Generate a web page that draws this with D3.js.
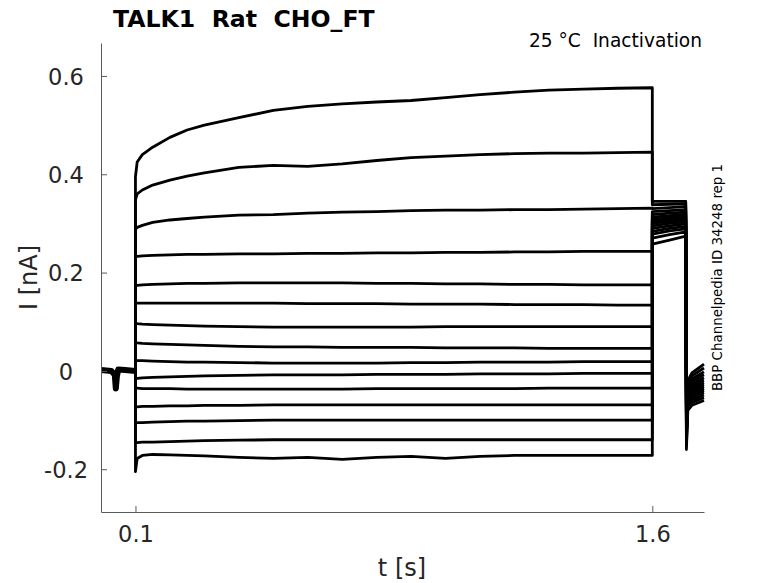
<!DOCTYPE html>
<html>
<head>
<meta charset="utf-8">
<script src="https://cdn.jsdelivr.net/npm/d3@7"></script>
<style>
  html, body { margin: 0; padding: 0; background: #fff; }
  svg { display: block; font-family: "DejaVu Sans", sans-serif; }
  text { white-space: pre; }
</style>
</head>
<body>
<svg id="chart" width="778" height="583"></svg>
<script>
// ---------------- data ----------------
const titleText = "TALK1  Rat  CHO_FT";
const subtitleText = "25 °C  Inactivation";
const sideText = "BBP Channelpedia ID 34248 rep 1";
const xLabel = "t [s]";
const yLabel = "I [nA]";
const xTicks = [0.1, 1.6];
const yTicks = [-0.2, 0, 0.2, 0.4, 0.6];

// holding period (common to all sweeps)
const preT = [0, 0.030, 0.040, 0.043, 0.046, 0.050, 0.070, 0.100];
const preI = [0.002, 0.000, -0.008, -0.036, -0.012, 0.003, 0.002, 0.000];

// conditioning pulse
const pulseT = [0.100, 0.105, 0.120, 0.150, 0.200, 0.250, 0.300, 0.400, 0.500, 0.600,
                0.700, 0.800, 0.900, 1.000, 1.100, 1.200, 1.300, 1.400, 1.500, 1.600];
const sweep01 = [0.395, 0.425, 0.440, 0.455, 0.475, 0.490, 0.500, 0.515, 0.530, 0.538,
                 0.543, 0.547, 0.550, 0.556, 0.562, 0.567, 0.571, 0.573, 0.575, 0.576];
const sweep02 = [0.348, 0.360, 0.368, 0.378, 0.388, 0.396, 0.403, 0.414, 0.418, 0.416,
                 0.421, 0.428, 0.434, 0.437, 0.440, 0.442, 0.443, 0.443, 0.444, 0.445];
const sweep03 = [0.288, 0.292, 0.296, 0.302, 0.307, 0.310, 0.313, 0.317, 0.318, 0.321,
                 0.323, 0.324, 0.326, 0.327, 0.327, 0.328, 0.328, 0.329, 0.330, 0.331];
const sweep04 = [0.232, 0.233, 0.234, 0.235, 0.236, 0.237, 0.237, 0.238, 0.238, 0.239,
                 0.239, 0.240, 0.240, 0.241, 0.241, 0.242, 0.242, 0.243, 0.243, 0.243];
const sweep05 = [0.173, 0.174, 0.175, 0.176, 0.177, 0.178, 0.178, 0.179, 0.179, 0.179,
                 0.179, 0.178, 0.178, 0.177, 0.177, 0.176, 0.176, 0.175, 0.175, 0.175];
const sweep06 = [0.138, 0.138, 0.138, 0.138, 0.138, 0.138, 0.138, 0.138, 0.138, 0.137,
                 0.137, 0.137, 0.136, 0.136, 0.136, 0.135, 0.135, 0.135, 0.134, 0.134];
const sweep07 = [0.097, 0.096, 0.095, 0.094, 0.093, 0.092, 0.091, 0.090, 0.089, 0.089,
                 0.089, 0.089, 0.089, 0.090, 0.090, 0.090, 0.090, 0.090, 0.090, 0.090];
const sweep08 = [0.058, 0.057, 0.056, 0.055, 0.054, 0.053, 0.052, 0.050, 0.049, 0.049,
                 0.048, 0.048, 0.048, 0.047, 0.047, 0.047, 0.046, 0.046, 0.046, 0.046];
const sweep09 = [0.022, 0.021, 0.021, 0.020, 0.019, 0.018, 0.018, 0.017, 0.016, 0.016,
                 0.016, 0.016, 0.017, 0.017, 0.018, 0.018, 0.018, 0.019, 0.019, 0.019];
const sweep10 = [-0.016, -0.015, -0.014, -0.013, -0.012, -0.011, -0.010, -0.009, -0.008, -0.008,
                 -0.008, -0.007, -0.007, -0.007, -0.006, -0.006, -0.006, -0.005, -0.005, -0.005];
const sweep11 = [-0.035, -0.035, -0.036, -0.036, -0.036, -0.037, -0.037, -0.037, -0.037, -0.037,
                 -0.037, -0.036, -0.036, -0.036, -0.036, -0.036, -0.035, -0.035, -0.035, -0.035];
const sweep12 = [-0.073, -0.073, -0.072, -0.072, -0.071, -0.071, -0.070, -0.070, -0.069, -0.069,
                 -0.069, -0.069, -0.069, -0.069, -0.069, -0.069, -0.069, -0.069, -0.069, -0.069];
const sweep13 = [-0.106, -0.105, -0.105, -0.104, -0.103, -0.102, -0.102, -0.101, -0.100, -0.100,
                 -0.100, -0.100, -0.100, -0.100, -0.100, -0.100, -0.100, -0.100, -0.100, -0.100];
const sweep14 = [-0.146, -0.146, -0.145, -0.145, -0.144, -0.143, -0.142, -0.141, -0.140, -0.140,
                 -0.140, -0.140, -0.140, -0.140, -0.140, -0.140, -0.140, -0.140, -0.140, -0.140];
const sweep15 = [-0.205, -0.178, -0.172, -0.170, -0.171, -0.172, -0.173, -0.176, -0.178, -0.176,
                 -0.180, -0.176, -0.174, -0.178, -0.174, -0.172, -0.172, -0.172, -0.172, -0.172];

// test pulse after the conditioning step (per sweep: start, middle, end)
const tail1T = [1.600, 1.650, 1.697];
const tail1Start = [0.345, 0.338, 0.330, 0.324, 0.318, 0.313, 0.308, 0.304, 0.300, 0.295, 0.290, 0.284, 0.278, 0.270, 0.258];
const tail1Mid   = [0.345, 0.339, 0.332, 0.326, 0.321, 0.316, 0.312, 0.308, 0.304, 0.300, 0.295, 0.290, 0.285, 0.277, 0.266];
const tail1End   = [0.345, 0.340, 0.334, 0.328, 0.323, 0.319, 0.315, 0.311, 0.307, 0.303, 0.299, 0.294, 0.289, 0.283, 0.274];

// return to holding: capacitive spike then relaxation
const tail2T = [1.697, 1.699, 1.703, 1.715, 1.750];
const tail2Spike = [-0.160, -0.150, -0.140, -0.132, -0.125, -0.120, -0.115, -0.110, -0.106, -0.102, -0.098, -0.094, -0.090, -0.086, -0.082];
const tail2Start = [-0.080, -0.075, -0.070, -0.066, -0.062, -0.058, -0.054, -0.050, -0.046, -0.042, -0.038, -0.034, -0.030, -0.025, -0.020];
const tail2Mid   = [-0.070, -0.064, -0.059, -0.054, -0.050, -0.046, -0.042, -0.038, -0.034, -0.030, -0.026, -0.021, -0.016, -0.010, -0.004];
const tail2End   = [-0.060, -0.054, -0.049, -0.044, -0.040, -0.036, -0.032, -0.028, -0.024, -0.019, -0.014, -0.008, -0.002, 0.006, 0.014];

const sweeps = [sweep01, sweep02, sweep03, sweep04, sweep05, sweep06, sweep07, sweep08,
                sweep09, sweep10, sweep11, sweep12, sweep13, sweep14, sweep15];

// ---------------- chart ----------------
const svg = d3.select("#chart");
const mLeft = 101, mRight = 704, mTop = 43, mBottom = 512;

const x = d3.scaleLinear().domain([0, 1.75]).range([mLeft, mRight]);
const y = d3.scaleLinear().domain([-0.287, 0.667]).range([mBottom, mTop]);

svg.append("defs").append("clipPath").attr("id", "plotclip")
  .append("rect").attr("x", mLeft).attr("y", mTop)
  .attr("width", mRight - mLeft + 1).attr("height", mBottom - mTop);

function buildSweep(i) {
  const pts = [];
  preT.forEach((t, k) => pts.push([t, preI[k]]));
  pulseT.forEach((t, k) => pts.push([t, sweeps[i][k]]));
  const t1 = [tail1Start[i], tail1Mid[i], tail1End[i]];
  tail1T.forEach((t, k) => pts.push([t, t1[k]]));
  const t2 = [tail1End[i], tail2Spike[i], tail2Start[i], tail2Mid[i], tail2End[i]];
  tail2T.forEach((t, k) => pts.push([t, t2[k]]));
  return pts;
}

const line = d3.line().x(d => x(d[0])).y(d => y(d[1]));

const plot = svg.append("g").attr("clip-path", "url(#plotclip)");

// holding segment is a thick noisy band in the reference (all sweeps overlap)
plot.append("path")
  .datum(preT.map((t, k) => [t, preI[k]]))
  .attr("d", line)
  .attr("fill", "none")
  .attr("stroke", "#000")
  .attr("stroke-width", 6)
  .attr("stroke-linejoin", "round");

plot.selectAll("path.sweep").data(sweeps.map((s, i) => buildSweep(i)))
  .join("path")
  .attr("class", "sweep")
  .attr("d", line)
  .attr("fill", "none")
  .attr("stroke", "#000")
  .attr("stroke-width", 2.8)
  .attr("stroke-linejoin", "round");

// axes
const axisColor = "#5a5a5a";
const textColor = "#262626";

const yAxis = svg.append("g").attr("transform", `translate(${mLeft},0)`)
  .call(d3.axisLeft(y).tickValues(yTicks).tickSize(-6).tickSizeOuter(0)
        .tickFormat(d => d === 0 ? "0" : String(d)));
yAxis.select(".domain").attr("stroke", axisColor);
yAxis.selectAll(".tick line").attr("stroke", axisColor);
yAxis.selectAll(".tick text")
  .attr("x", -35).attr("dy", "0.36em")
  .attr("text-anchor", "middle")
  .attr("fill", textColor)
  .style("font-size", "22.5px").style("font-family", "DejaVu Sans");

const xAxis = svg.append("g").attr("transform", `translate(0,${mBottom})`)
  .call(d3.axisBottom(x).tickValues(xTicks).tickSize(-6).tickSizeOuter(0)
        .tickFormat(d => String(d)));
xAxis.select(".domain").attr("stroke", axisColor);
xAxis.selectAll(".tick line").attr("stroke", axisColor);
xAxis.selectAll(".tick text")
  .attr("y", 30).attr("dy", "0")
  .attr("fill", textColor)
  .style("font-size", "22.5px").style("font-family", "DejaVu Sans");

// labels
svg.append("text").attr("x", 113).attr("y", 27)
  .attr("font-weight", "bold").attr("font-size", "23.6px").attr("fill", "#000")
  .text(titleText);

svg.append("text").attr("x", 702).attr("y", 47)
  .attr("text-anchor", "end").attr("font-size", "18.6px").attr("fill", "#000")
  .text(subtitleText);

svg.append("text").attr("x", 402).attr("y", 576)
  .attr("text-anchor", "middle").attr("font-size", "24px").attr("fill", textColor)
  .text(xLabel);

svg.append("text").attr("transform", "translate(37,277.5) rotate(-90)")
  .attr("text-anchor", "middle").attr("font-size", "24px").attr("fill", textColor)
  .text(yLabel);

svg.append("text").attr("transform", "translate(722,277.5) rotate(-90)")
  .attr("text-anchor", "middle").attr("font-size", "13.4px").attr("fill", "#000")
  .text(sideText);
</script>
</body>
</html>
